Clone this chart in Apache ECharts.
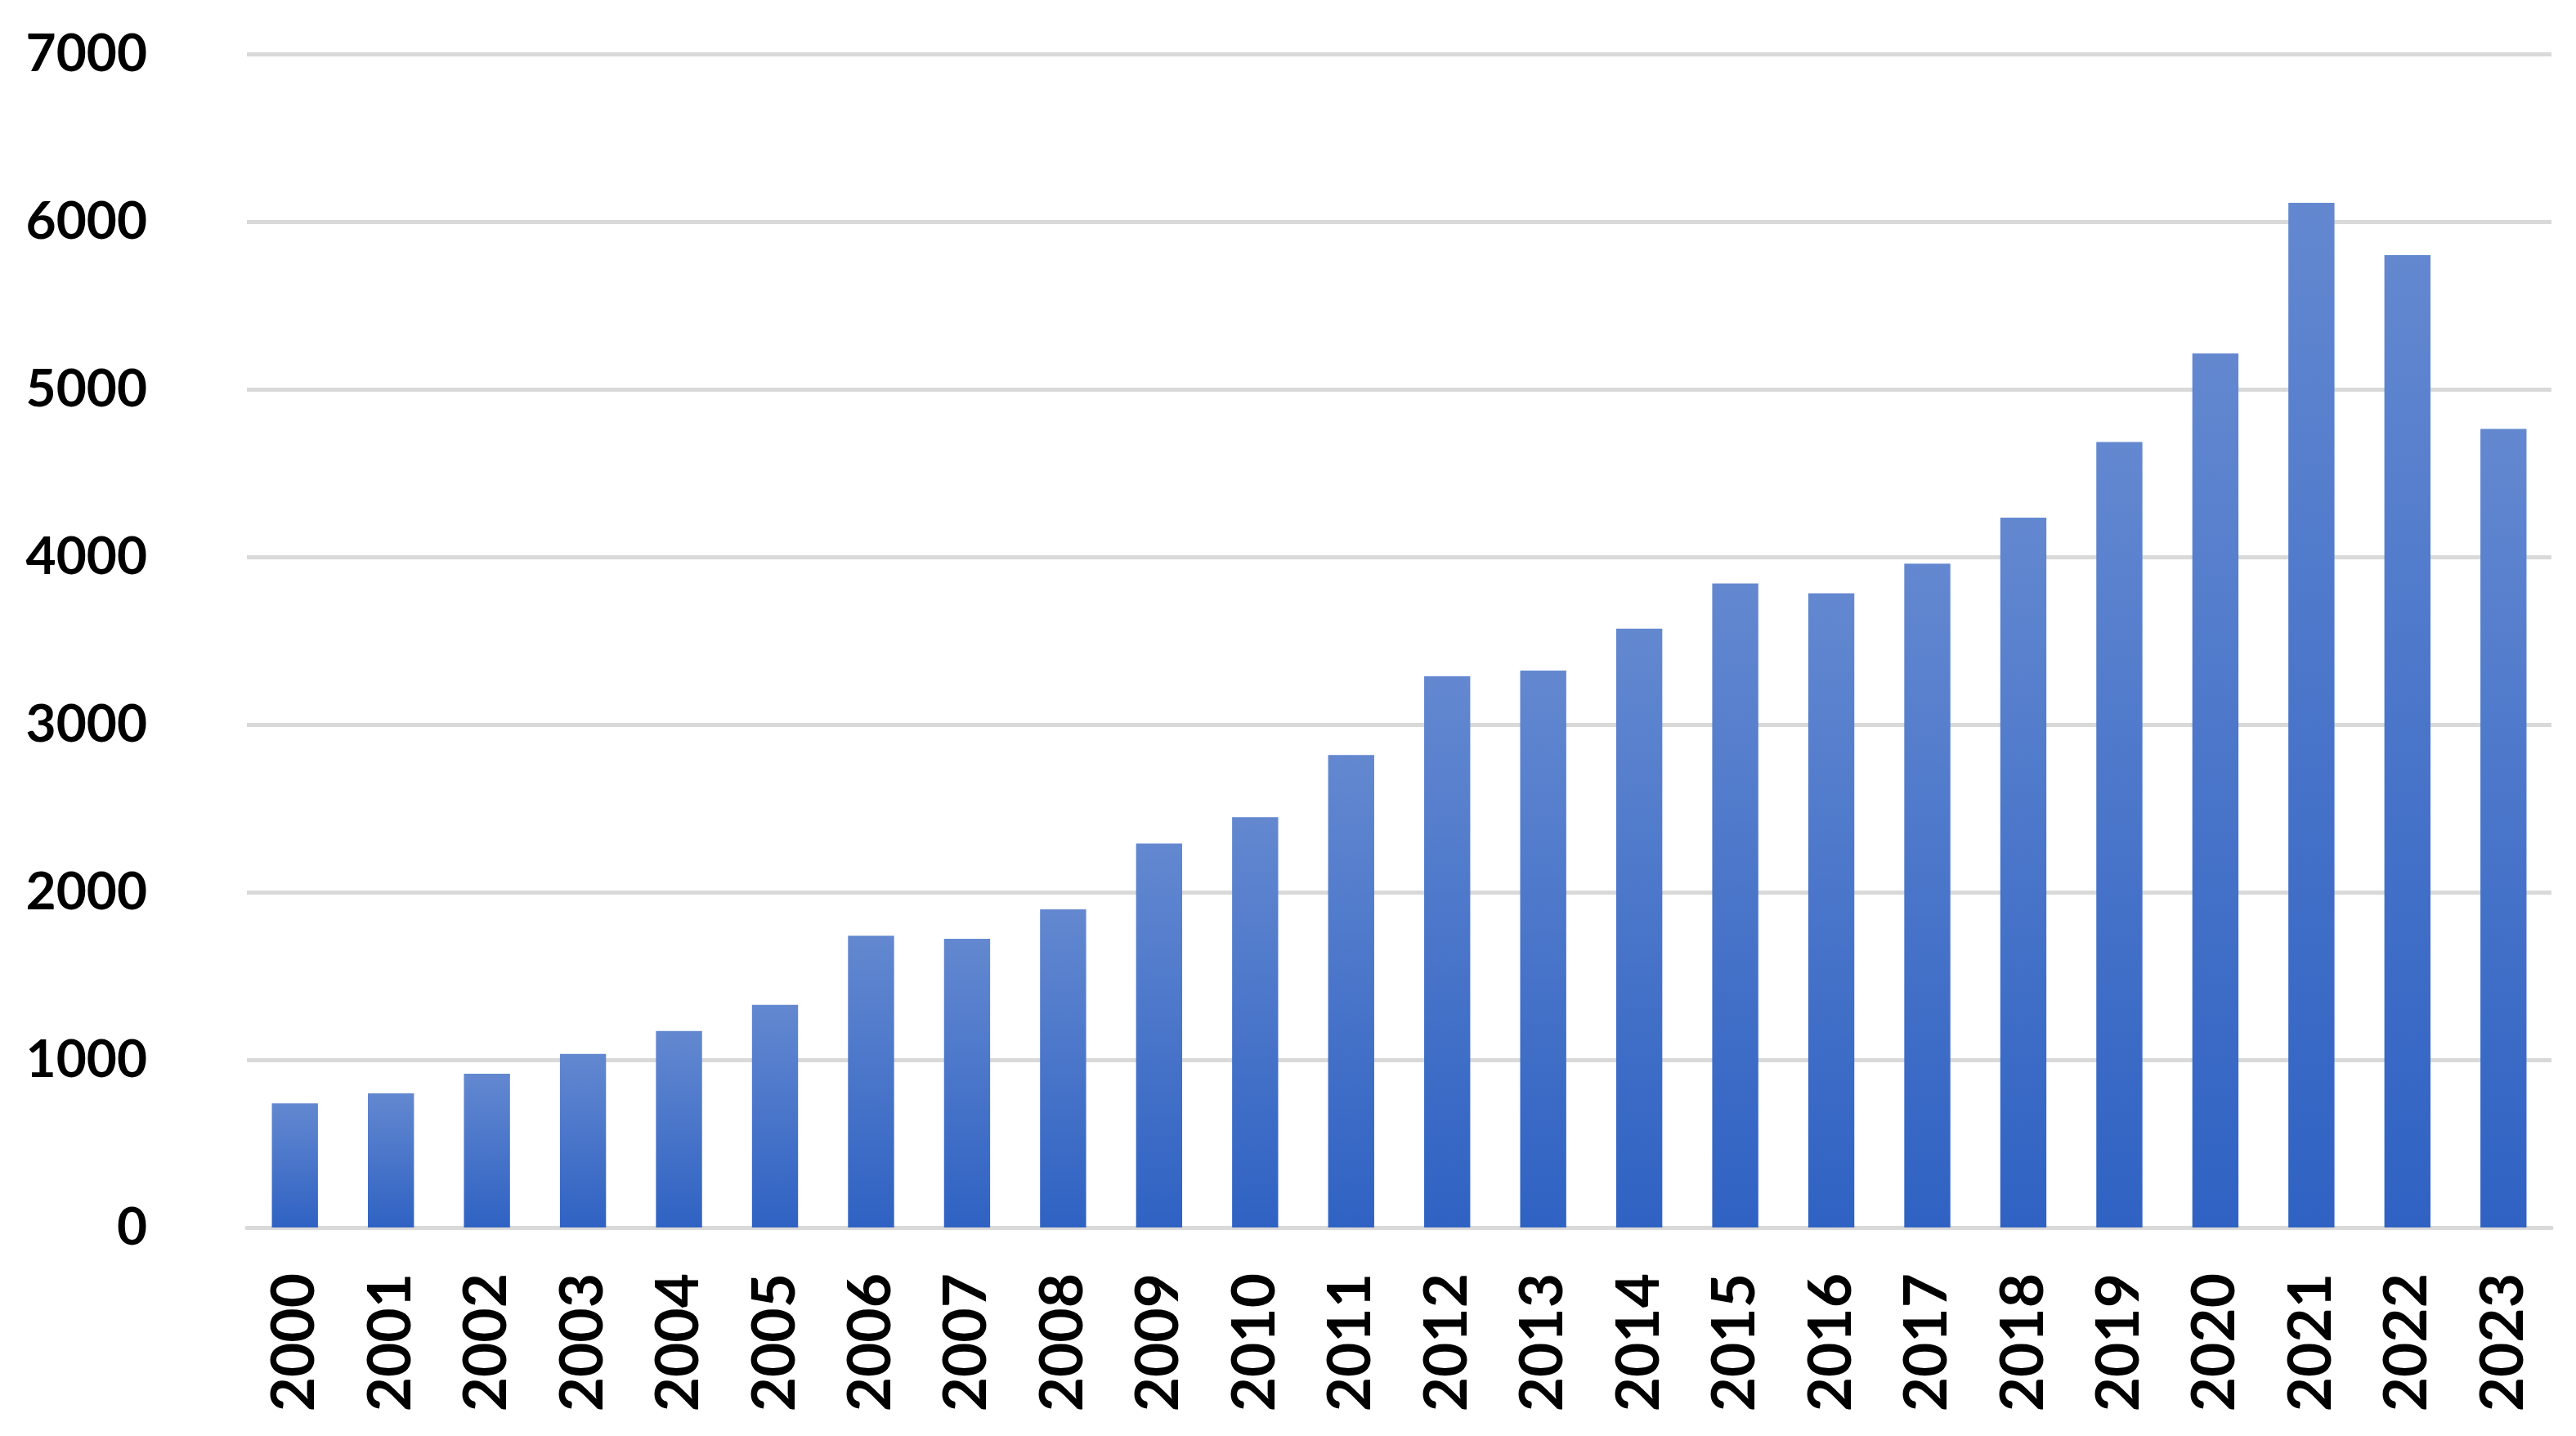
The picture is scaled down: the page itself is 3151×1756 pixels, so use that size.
<!DOCTYPE html>
<html>
<head>
<meta charset="utf-8">
<script src="https://cdn.jsdelivr.net/npm/echarts@6/dist/echarts.min.js"></script>
<style>
html,body{margin:0;padding:0;background:#fff;}
#main{width:3151px;height:1756px;}
</style>
</head>
<body>
<div id="main"></div>
<script>
const years = ['2000','2001','2002','2003','2004','2005','2006','2007','2008','2009','2010','2011','2012','2013','2014','2015','2016','2017','2018','2019','2020','2021','2022','2023'];
const counts = [740, 800, 917, 1035, 1172, 1328, 1740, 1722, 1898, 2290, 2447, 2818, 3288, 3322, 3572, 3842, 3783, 3960, 4234, 4685, 5214, 6112, 5800, 4764];
const yTicks = [0, 7000, 1000];

const chart = echarts.init(document.getElementById('main'));
chart.setOption({
  animation: false,
  backgroundColor: '#ffffff',
  grid: {left: 302, right: 30, top: 66, bottom: 255, containLabel: false},
  xAxis: {
    type: 'category',
    data: years,
    axisLine: {show: true, lineStyle: {color: '#d9d9d9', width: 5}},
    axisTick: {show: false},
    axisLabel: {
      rotate: 90,
      margin: 56,
      fontFamily: 'Lato',
      fontWeight: 'bold',
      fontSize: 73,
      color: '#000000'
    }
  },
  yAxis: {
    type: 'value',
    min: yTicks[0],
    max: yTicks[1],
    interval: yTicks[2],
    axisLine: {show: false},
    axisTick: {show: false},
    splitLine: {show: true, lineStyle: {color: '#d9d9d9', width: 5}},
    axisLabel: {
      margin: 122,
      fontFamily: 'Lato',
      fontWeight: 'bold',
      fontSize: 64,
      color: '#000000',
      formatter: function (v) { return String(v); }
    }
  },
  series: [{
    type: 'bar',
    data: counts,
    barCategoryGap: '52%',
    itemStyle: {
      color: new echarts.graphic.LinearGradient(0, 0, 0, 1, [
        {offset: 0, color: '#6388d0'},
        {offset: 1, color: '#2f62c3'}
      ])
    }
  }]
});
</script>
</body>
</html>
